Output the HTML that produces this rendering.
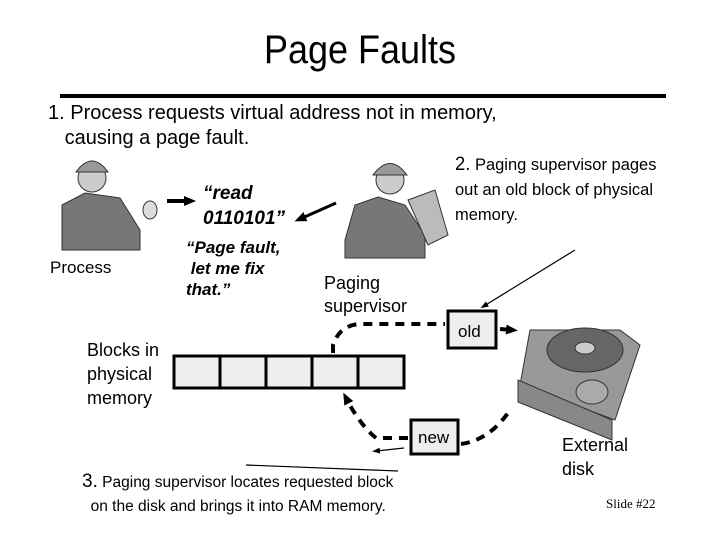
<!DOCTYPE html>
<html><head><style>
body{margin:0;width:720px;height:540px;background:#fff;position:relative;overflow:hidden;font-family:"Liberation Sans",sans-serif;color:#000}
.t{position:absolute;white-space:nowrap}
</style></head><body>
<div class="t" style="left:0;width:720px;text-align:center;top:26px;font-size:40px;line-height:48px;transform:scaleX(0.9)">Page Faults</div>
<div style="position:absolute;left:60px;top:94px;width:606px;height:4px;background:#000"></div>
<div class="t" style="left:48px;top:101px;font-size:20px;line-height:25px">1. Process requests virtual address not in memory,<br>&nbsp;&nbsp;&nbsp;causing a page fault.</div>
<div class="t" style="left:455px;top:152px;font-size:17px;line-height:25px;transform:scaleX(0.97);transform-origin:left"><span style="font-size:19px">2.</span> Paging supervisor pages<br>out an old block of physical<br>memory.</div>
<div class="t" style="left:203px;top:181px;font-size:19px;line-height:25px;font-weight:bold;font-style:italic">“read<br>0110101”</div>
<div class="t" style="left:186px;top:237px;font-size:17px;line-height:21px;font-weight:bold;font-style:italic">“Page fault,<br>&nbsp;let me fix<br>that.”</div>
<div class="t" style="left:50px;top:258px;font-size:17px">Process</div>
<div class="t" style="left:324px;top:272px;font-size:18px;line-height:23px">Paging<br>supervisor</div>
<div class="t" style="left:87px;top:338px;font-size:18px;line-height:24px">Blocks in<br>physical<br>memory</div>
<div class="t" style="left:562px;top:433px;font-size:18px;line-height:24px">External<br>disk</div>
<div class="t" style="left:82px;top:470px;font-size:15.5px;line-height:24px"><span style="font-size:19px">3.</span> Paging supervisor locates requested block<br>&nbsp;&nbsp;on the disk and brings it into RAM memory.</div>
<div class="t" style="left:606px;top:496px;font-size:13px;font-family:'Liberation Serif',serif">Slide #22</div>
<svg width="720" height="540" style="position:absolute;left:0;top:0">
<defs>
<marker id="a" markerUnits="userSpaceOnUse" markerWidth="12" markerHeight="12" refX="6" refY="6" orient="auto"><path d="M0,1L12,6L0,11z" fill="#000"/></marker>
<marker id="b" markerUnits="userSpaceOnUse" markerWidth="8" markerHeight="8" refX="4" refY="4" orient="auto"><path d="M0,1L8,4L0,7z" fill="#000"/></marker>
</defs>
<g fill="#777" stroke="#333" stroke-width="1">
<path d="M62,205 L85,193 L120,198 L140,230 L140,250 L62,250 Z"/>
<circle cx="92" cy="178" r="14" fill="#ccc"/>
<path d="M76,172 Q92,150 108,172 Z" fill="#999"/>
<ellipse cx="150" cy="210" rx="7" ry="9" fill="#ddd"/>
</g>
<g fill="#777" stroke="#333" stroke-width="1">
<path d="M345,240 L355,205 L378,197 L405,205 L425,235 L425,258 L345,258 Z"/>
<circle cx="390" cy="180" r="14" fill="#ccc"/>
<path d="M373,175 Q390,152 407,175 Z" fill="#999"/>
<path d="M408,200 L435,190 L448,235 L428,245 Z" fill="#bbb"/>
</g>
<path d="M167,201 L190,201" stroke="#000" stroke-width="4" marker-end="url(#a)"/>
<path d="M336,203 L300,219" stroke="#000" stroke-width="3" marker-end="url(#a)"/>
<path d="M575,250 L484,306" stroke="#000" stroke-width="1.2" marker-end="url(#b)"/>
<path d="M398,471 L246,465" stroke="#000" stroke-width="1.2"/>
<path d="M404,448 L376,451" stroke="#000" stroke-width="1.2" marker-end="url(#b)"/>
<g fill="#eee" stroke="#000" stroke-width="3">
<rect x="174" y="356" width="46" height="32"/><rect x="220" y="356" width="46" height="32"/><rect x="266" y="356" width="46" height="32"/><rect x="312" y="356" width="46" height="32"/><rect x="358" y="356" width="46" height="32"/>
</g>
<rect x="448" y="311" width="48" height="37" fill="#eee" stroke="#000" stroke-width="3"/>
<rect x="411" y="420" width="47" height="34" fill="#eee" stroke="#000" stroke-width="3"/>
<text x="458" y="337" font-size="17" font-family="Liberation Sans">old</text>
<text x="418" y="443" font-size="17" font-family="Liberation Sans">new</text>
<g fill="none" stroke="#000" stroke-width="4" stroke-dasharray="9,7">
<path d="M333,353 L333,345 Q340,324 362,324 L445,324"/>
<path d="M500,329 L512,330" marker-end="url(#a)"/>
<path d="M408,438 L376,438 Q360,425 346,398" marker-end="url(#a)"/>
<path d="M461,444 Q490,440 510,410"/>
</g>
<g stroke="#333">
<path d="M530,330 L620,330 L640,345 L615,420 L520,385 Z" fill="#999"/>
<path d="M518,380 L612,420 L612,440 L518,402 Z" fill="#888"/>
<ellipse cx="585" cy="350" rx="38" ry="22" fill="#666"/>
<ellipse cx="585" cy="348" rx="10" ry="6" fill="#ccc"/>
<ellipse cx="592" cy="392" rx="16" ry="12" fill="#aaa"/>
</g>
</svg>
</body></html>
